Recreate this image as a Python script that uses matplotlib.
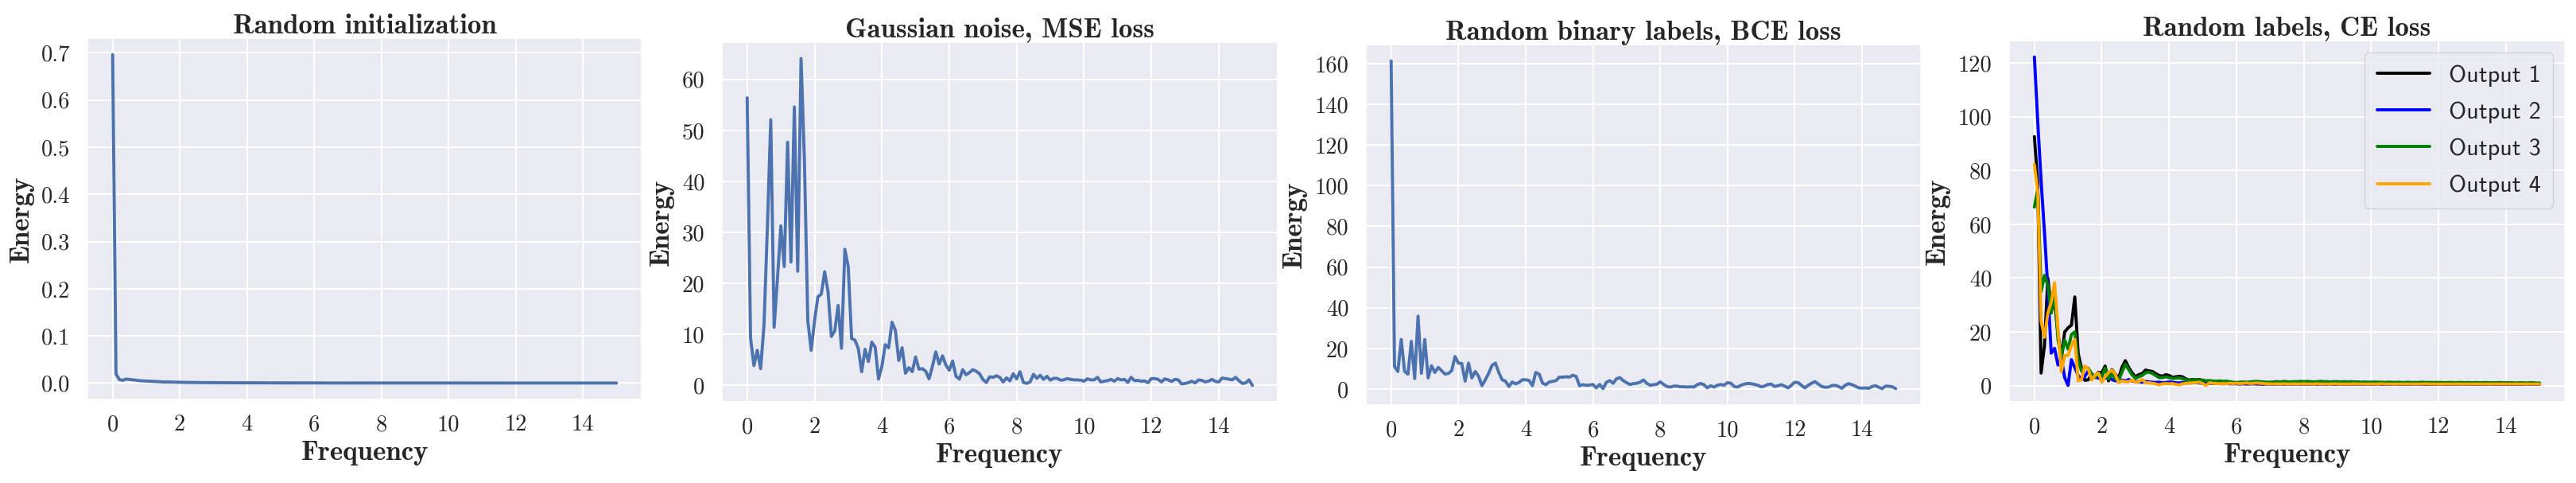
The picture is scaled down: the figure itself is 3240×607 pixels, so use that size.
import numpy as np
import matplotlib.pyplot as plt
import seaborn as sns
from matplotlib.ticker import MultipleLocator

sns.set_theme(style="darkgrid")
plt.rcParams.update({
    "font.family": "serif",
    "font.serif": ["cmr10"],
    "axes.formatter.use_mathtext": False,
})

# frequency grid, 0 .. 15 in steps of 0.1
freq = np.linspace(0, 15, 151)

# Random initialization
init_energy = [
    0.696, 0.0197, 0.0073, 0.0060, 0.0085, 0.0078, 0.0070, 0.0062, 0.0052, 0.0048,
    0.0045, 0.0040, 0.0036, 0.0033, 0.0030, 0.0024, 0.0026, 0.0024, 0.0021, 0.0019,
    0.0017, 0.0016, 0.0015, 0.0014, 0.0013, 0.0013, 0.0012, 0.0011, 0.0011, 0.0010,
    0.0010, 0.0009, 0.0009, 0.0009, 0.0008, 0.0008, 0.0008, 0.0007, 0.0007, 0.0007,
    0.0007, 0.0006, 0.0006, 0.0006, 0.0006, 0.0006, 0.0005, 0.0005, 0.0005, 0.0005,
    0.0005, 0.0005, 0.0004, 0.0004, 0.0004, 0.0004, 0.0004, 0.0004, 0.0004, 0.0004,
    0.0004, 0.0004, 0.0003, 0.0003, 0.0003, 0.0003, 0.0003, 0.0003, 0.0003, 0.0003,
    0.0003, 0.0003, 0.0003, 0.0003, 0.0003, 0.0003, 0.0003, 0.0003, 0.0003, 0.0003,
    0.0003, 0.0003, 0.0003, 0.0003, 0.0002, 0.0002, 0.0002, 0.0002, 0.0002, 0.0002,
    0.0002, 0.0002, 0.0002, 0.0002, 0.0002, 0.0002, 0.0002, 0.0002, 0.0002, 0.0002,
    0.0002, 0.0002, 0.0002, 0.0002, 0.0002, 0.0002, 0.0002, 0.0002, 0.0002, 0.0002,
    0.0002, 0.0002, 0.0002, 0.0002, 0.0002, 0.0002, 0.0002, 0.0002, 0.0002, 0.0002,
    0.0002, 0.0002, 0.0002, 0.0002, 0.0002, 0.0002, 0.0002, 0.0002, 0.0002, 0.0002,
    0.0002, 0.0002, 0.0002, 0.0002, 0.0002, 0.0002, 0.0002, 0.0002, 0.0002, 0.0002,
    0.0002, 0.0002, 0.0002, 0.0002, 0.0002, 0.0002, 0.0002, 0.0002, 0.0002, 0.0002,
    0.0002,
]

# Gaussian noise, MSE loss
mse_energy = [
    56.4, 9.3, 3.9, 6.9, 3.3, 11.9, 31.0, 52.1, 11.4, 21.0,
    31.3, 23.3, 47.7, 24.2, 54.6, 22.4, 64.1, 44.0, 12.7, 6.9,
    12.7, 17.4, 17.9, 22.3, 18.4, 9.6, 10.7, 15.7, 7.3, 26.7,
    23.3, 9.2, 8.9, 7.2, 2.7, 7.1, 4.7, 8.5, 7.5, 1.25,
    3.75, 8.0, 7.4, 12.4, 10.8, 4.9, 7.4, 2.4, 3.5, 2.7,
    5.6, 3.2, 3.3, 2.8, 1.3, 3.75, 6.6, 4.2, 5.8, 4.0,
    3.0, 4.8, 1.8, 1.25, 3.1, 2.1, 2.55, 3.1, 2.8, 2.3,
    1.15, 0.6, 1.7, 1.6, 1.9, 1.6, 0.7, 1.5, 0.9, 2.3,
    1.3, 2.7, 0.6, 0.4, 0.7, 2.2, 1.4, 2.0, 1.2, 1.8,
    1.05, 1.4, 1.4, 1.05, 1.1, 1.35, 1.2, 1.1, 1.1, 1.05,
    0.85, 1.3, 1.1, 1.1, 1.6, 0.7, 0.85, 0.95, 1.2, 0.85,
    1.35, 1.1, 1.2, 0.6, 1.6, 0.95, 1.0, 0.85, 0.9, 0.55,
    1.35, 1.35, 1.2, 0.7, 1.3, 1.1, 0.8, 1.2, 1.1, 0.3,
    0.4, 0.55, 0.85, 0.5, 1.1, 1.0, 0.7, 0.85, 1.2, 0.8,
    0.7, 1.45, 1.35, 1.25, 1.1, 1.6, 0.95, 0.4, 0.5, 1.1,
    0.0,
]

# Random binary labels, BCE loss
bce_energy = [
    161.3, 11.1, 8.7, 24.4, 8.7, 7.4, 23.5, 5.2, 35.9, 7.8,
    24.4, 5.5, 11.5, 8.2, 10.7, 9.1, 7.4, 7.7, 9.1, 16.0,
    12.8, 12.6, 3.9, 12.8, 5.5, 8.7, 6.3, 1.7, 4.6, 7.8,
    11.7, 12.8, 8.2, 4.6, 3.9, 1.3, 3.5, 2.6, 3.3, 4.6,
    4.6, 4.3, 1.7, 8.2, 7.4, 3.0, 2.2, 3.5, 3.8, 4.2,
    5.9, 5.9, 6.1, 5.9, 6.8, 6.3, 1.7, 2.2, 1.9, 2.0,
    2.3, 0.6, 2.3, 0.25, 3.4, 4.2, 2.9, 5.1, 5.7, 4.2,
    3.2, 2.3, 2.7, 2.9, 3.4, 4.5, 2.9, 1.9, 2.2, 2.4,
    3.6, 2.3, 1.3, 1.0, 1.5, 1.5, 1.15, 1.15, 1.0, 1.15,
    1.0, 2.2, 2.8, 2.2, 0.6, 1.7, 1.0, 1.9, 2.3, 1.9,
    3.2, 2.9, 1.3, 1.0, 1.9, 2.5, 2.8, 2.7, 2.3, 1.9,
    1.15, 1.5, 2.3, 2.5, 1.3, 1.7, 2.2, 1.5, 0.6, 1.9,
    3.4, 3.2, 1.9, 0.6, 1.9, 2.9, 3.7, 2.5, 1.3, 0.9,
    1.0, 1.7, 1.9, 1.3, 0.4, 1.9, 2.7, 2.2, 1.5, 0.6,
    0.5, 0.6, 0.4, 1.3, 1.7, 0.9, 0.25, 1.5, 1.4, 1.15,
    0.25,
]

# Random labels, CE loss: one series per output
ce_output1 = [
    92.6, 75.0, 4.7, 15.0, 40.0, 28.4, 31.0, 19.5, 10.2, 20.0,
    21.5, 22.5, 33.0, 12.0, 6.5, 2.0, 2.2, 4.2, 3.5, 5.0,
    4.8, 7.3, 1.8, 6.0, 4.3, 2.8, 6.8, 9.3, 6.8, 4.8,
    3.3, 4.1, 4.5, 5.8, 5.5, 5.3, 4.5, 3.8, 3.5, 4.1,
    3.8, 3.1, 3.3, 3.5, 3.3, 2.5, 2.1, 2.3, 2.1, 2.3,
    1.8, 1.5, 1.7, 1.7, 1.5, 1.4, 1.3, 1.4, 1.2, 1.1,
    1.0, 1.1, 1.0, 0.9, 1.0, 1.1, 1.2, 1.1, 1.0, 0.9,
    0.9, 1.0, 0.9, 1.0, 1.1, 1.0, 0.9, 1.0, 1.1, 1.0,
    1.0, 0.9, 1.0, 1.1, 1.0, 0.9, 0.9, 1.0, 1.0, 0.9,
    0.9, 1.0, 0.9, 0.8, 0.9, 1.0, 0.9, 0.9, 0.8, 0.9,
    0.9, 0.8, 0.9, 0.9, 0.8, 0.8, 0.9, 0.8, 0.8, 0.9,
    0.8, 0.8, 0.9, 0.8, 0.8, 0.8, 0.9, 0.8, 0.8, 0.8,
    0.8, 0.9, 0.8, 0.8, 0.8, 0.8, 0.9, 0.8, 0.8, 0.8,
    0.8, 0.8, 0.8, 0.9, 0.8, 0.8, 0.8, 0.8, 0.9, 0.8,
    0.8, 0.8, 0.8, 0.8, 0.9, 0.8, 0.8, 0.8, 0.8, 0.8,
    0.8,
]
ce_output2 = [
    122.2, 98.0, 76.0, 57.0, 36.0, 12.1, 13.9, 7.7, 10.2, 3.0,
    0.1, 9.7, 6.7, 3.8, 2.3, 3.5, 5.5, 3.3, 3.3, 2.8,
    2.5, 2.8, 3.3, 2.3, 1.8, 2.1, 2.1, 1.8, 2.3, 1.8,
    1.6, 1.5, 1.3, 1.6, 1.4, 1.3, 1.2, 1.3, 1.1, 1.2,
    1.4, 1.3, 1.1, 1.0, 1.2, 1.1, 1.0, 1.1, 1.2, 1.0,
    0.9, 1.0, 0.9, 0.8, 0.9, 0.8, 0.7, 0.8, 0.7, 0.7,
    0.7, 0.6, 0.7, 0.6, 0.6, 0.7, 0.6, 0.6, 0.5, 0.6,
    0.6, 0.5, 0.6, 0.6, 0.5, 0.6, 0.5, 0.6, 0.6, 0.5,
    0.6, 0.5, 0.5, 0.6, 0.5, 0.6, 0.5, 0.5, 0.6, 0.5,
    0.5, 0.6, 0.5, 0.5, 0.5, 0.6, 0.5, 0.5, 0.5, 0.6,
    0.5, 0.5, 0.6, 0.5, 0.5, 0.5, 0.5, 0.6, 0.5, 0.5,
    0.5, 0.5, 0.5, 0.6, 0.5, 0.5, 0.5, 0.5, 0.5, 0.5,
    0.6, 0.5, 0.5, 0.5, 0.5, 0.5, 0.5, 0.6, 0.5, 0.5,
    0.5, 0.5, 0.5, 0.5, 0.5, 0.6, 0.5, 0.5, 0.5, 0.5,
    0.5, 0.5, 0.5, 0.5, 0.5, 0.5, 0.6, 0.5, 0.5, 0.5,
    0.5,
]
ce_output3 = [
    66.4, 73.0, 35.0, 41.0, 37.3, 27.0, 35.0, 17.0, 10.7, 17.0,
    13.6, 19.0, 20.0, 9.3, 5.5, 7.0, 6.5, 4.5, 3.0, 4.5,
    3.3, 6.5, 2.5, 4.5, 2.5, 2.0, 5.0, 8.0, 6.0, 4.0,
    2.8, 3.3, 3.8, 4.8, 5.0, 4.6, 3.8, 3.0, 3.0, 3.3,
    3.0, 2.7, 2.8, 2.9, 2.6, 2.2, 2.0, 2.1, 2.3, 2.0,
    2.1, 1.8, 1.9, 1.7, 1.6, 1.8, 1.6, 1.7, 1.5, 1.3,
    1.2, 1.3, 1.4, 1.3, 1.4, 1.5, 1.6, 1.5, 1.4, 1.3,
    1.3, 1.4, 1.5, 1.4, 1.6, 1.5, 1.4, 1.5, 1.5, 1.6,
    1.5, 1.6, 1.5, 1.4, 1.5, 1.6, 1.5, 1.5, 1.4, 1.5,
    1.5, 1.4, 1.5, 1.4, 1.5, 1.4, 1.4, 1.3, 1.4, 1.3,
    1.3, 1.4, 1.3, 1.3, 1.2, 1.3, 1.3, 1.2, 1.3, 1.2,
    1.2, 1.3, 1.2, 1.2, 1.2, 1.3, 1.2, 1.2, 1.2, 1.2,
    1.2, 1.2, 1.1, 1.2, 1.2, 1.1, 1.2, 1.2, 1.1, 1.2,
    1.1, 1.2, 1.1, 1.1, 1.2, 1.1, 1.1, 1.1, 1.2, 1.1,
    1.1, 1.1, 1.1, 1.0, 1.1, 1.1, 1.0, 1.1, 1.1, 1.0,
    1.0,
]
ce_output4 = [
    82.2, 72.0, 24.0, 18.0, 27.0, 31.0, 38.3, 21.0, 5.2, 11.2,
    11.2, 15.0, 17.2, 1.8, 2.3, 7.3, 6.3, 2.1, 3.8, 4.8,
    1.3, 3.3, 4.8, 5.8, 4.3, 1.1, 1.8, 1.5, 1.5, 2.1,
    1.3, 1.5, 2.3, 1.1, 1.1, 0.9, 0.7, 0.3, 0.7, 0.8,
    0.7, 0.8, 0.5, 0.3, 0.7, 0.9, 1.0, 1.1, 1.1, 1.3,
    0.8, 0.1, 1.1, 0.9, 0.8, 0.7, 0.8, 0.7, 0.9, 0.8,
    0.9, 0.8, 0.9, 1.0, 0.8, 0.9, 1.0, 0.9, 0.8, 0.7,
    0.7, 0.6, 0.7, 0.6, 0.7, 0.6, 0.6, 0.7, 0.6, 0.6,
    0.7, 0.6, 0.6, 0.6, 0.7, 0.6, 0.6, 0.6, 0.6, 0.7,
    0.6, 0.6, 0.6, 0.6, 0.6, 0.7, 0.6, 0.6, 0.6, 0.6,
    0.6, 0.6, 0.6, 0.7, 0.6, 0.6, 0.6, 0.6, 0.6, 0.6,
    0.6, 0.6, 0.6, 0.6, 0.6, 0.6, 0.7, 0.6, 0.6, 0.6,
    0.6, 0.6, 0.6, 0.6, 0.6, 0.6, 0.6, 0.6, 0.6, 0.6,
    0.6, 0.6, 0.6, 0.6, 0.6, 0.6, 0.6, 0.6, 0.6, 0.6,
    0.6, 0.6, 0.6, 0.6, 0.6, 0.6, 0.6, 0.6, 0.6, 0.6,
    0.6,
]

titles = ["Random initialization", "Gaussian noise, MSE loss",
          "Random binary labels, BCE loss", "Random labels, CE loss"]
ce_labels = ["Output 1", "Output 2", "Output 3", "Output 4"]
ce_colors = ["black", "blue", "green", "orange"]
y_steps = [0.1, 10, 20, 20]

W, H = 3240, 607
fig = plt.figure(figsize=(W / 100, H / 100), dpi=100)
renderer = fig.canvas.get_renderer()


def fit_size(text, family, target_px):
    # font size that gives the text the pixel width seen in the picture
    t = fig.text(0, 0, text, family=family, fontsize=20)
    w = t.get_window_extent(renderer).width
    t.remove()
    return 20 * target_px / w


bold_fs = fit_size("Random initialization", "cmb10", 331)
tick_fs = fit_size("160", "cmr10", 43)
legend_fs = fit_size("Output 1", "cmss10", 116)

# axes boxes in pixels: left, top, right, bottom
boxes = [(110, 48, 807, 502), (908, 53, 1607, 505), (1718, 56, 2416, 509), (2527, 51, 3226, 505)]
axes = []
for (l, t, r, b) in boxes:
    axes.append(fig.add_axes([l / W, (H - b) / H, (r - l) / W, (b - t) / H]))

single = [init_energy, mse_energy, bce_energy]
for ax, vals in zip(axes[:3], single):
    ax.plot(freq, vals, color="#4C72B0", lw=2.8)

for vals, lab, col in zip([ce_output1, ce_output2, ce_output3, ce_output4], ce_labels, ce_colors):
    axes[3].plot(freq, vals, color=col, lw=2.8, label=lab)
axes[3].legend(loc="upper right", prop={"family": "cmss10", "size": legend_fs},
               handlelength=2.2, labelspacing=0.62, borderpad=0.5)

for ax, title, step in zip(axes, titles, y_steps):
    ax.set_title(title, fontfamily="cmb10", fontsize=bold_fs, pad=4.5)
    ax.set_xlabel("Frequency", fontfamily="cmb10", fontsize=bold_fs, labelpad=5)
    ax.set_ylabel("Energy", fontfamily="cmb10", fontsize=bold_fs, labelpad=7)
    ax.tick_params(axis="x", length=0, pad=13.5, labelsize=tick_fs)
    ax.tick_params(axis="y", length=0, pad=15.5, labelsize=tick_fs)
    ax.set_xticks(range(0, 15, 2))
    ax.yaxis.set_major_locator(MultipleLocator(step))
    ax.grid(lw=1.5)

fig.savefig("out.png", dpi=100)
plt.close()
